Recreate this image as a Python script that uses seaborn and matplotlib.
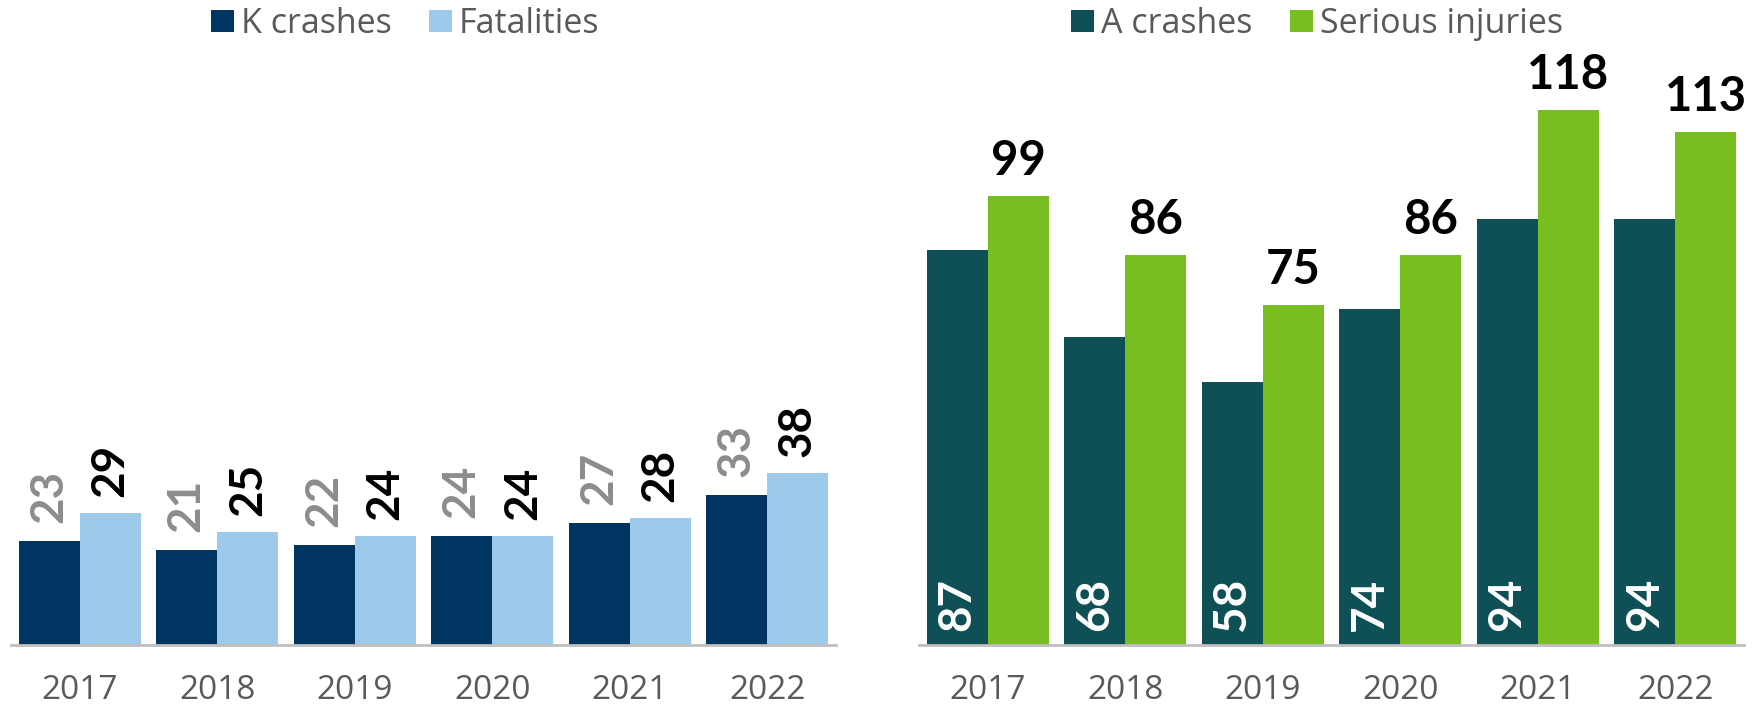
import matplotlib
matplotlib.use("Agg")
import matplotlib.pyplot as plt
import seaborn as sns
import pandas as pd
from matplotlib.patches import Patch

years = ["2017", "2018", "2019", "2020", "2021", "2022"]
k_crashes = [23, 21, 22, 24, 27, 33]
fatalities = [29, 25, 24, 24, 28, 38]
a_crashes = [87, 68, 58, 74, 94, 94]
serious_injuries = [99, 86, 75, 86, 118, 113]

left_series = ["K crashes", "Fatalities"]
right_series = ["A crashes", "Serious injuries"]
left_colors = ["#003561", "#9DCAEA"]
right_colors = ["#0E5055", "#78BE20"]

sns.set_theme(style="white")
plt.rcParams["font.family"] = ["Open Sans", "DejaVu Sans"]

LABEL_FONT = ["Lato", "DejaVu Sans"]

W, H = 1760, 716
fig = plt.figure(figsize=(W / 100, H / 100), dpi=100)

base_px = 645
ymax = 142.2

ax_l = fig.add_axes([11 / W, (H - base_px) / H, 825 / W, base_px / H])
ax_r = fig.add_axes([919 / W, (H - base_px) / H, 825 / W, base_px / H])

df_l = pd.DataFrame({
    "year": years * 2,
    "value": k_crashes + fatalities,
    "series": [left_series[0]] * 6 + [left_series[1]] * 6,
})
df_r = pd.DataFrame({
    "year": years * 2,
    "value": a_crashes + serious_injuries,
    "series": [right_series[0]] * 6 + [right_series[1]] * 6,
})

sns.barplot(data=df_l, x="year", y="value", hue="series", palette=left_colors,
            width=0.888, ax=ax_l, legend=False, linewidth=0, saturation=1)
sns.barplot(data=df_r, x="year", y="value", hue="series", palette=right_colors,
            width=0.888, ax=ax_r, legend=False, linewidth=0, saturation=1)

for ax in (ax_l, ax_r):
    ax.set_xlim(-0.5, 5.5)
    ax.set_ylim(0, ymax)
    ax.set_xlabel("")
    ax.set_ylabel("")
    ax.set_yticks([])
    for s in ("top", "left", "right"):
        ax.spines[s].set_visible(False)
    ax.spines["bottom"].set_color("#BFBFBF")
    ax.spines["bottom"].set_linewidth(2)
    ax.tick_params(axis="x", length=0, pad=21, labelsize=24, labelcolor="#595959")
    ax.patch.set_alpha(0)

# Left labels (rotated)
c_k, c_f = ax_l.containers[0], ax_l.containers[1]
for bar, v in zip(c_k, k_crashes):
    ax_l.annotate(str(v), (bar.get_x() + bar.get_width() / 2, bar.get_height()),
                  xytext=(0, 18), textcoords="offset pixels", rotation=90,
                  ha="center", va="bottom", fontsize=33, color="#8C8C8C",
                  fontweight="bold", family=LABEL_FONT)
for bar, v in zip(c_f, fatalities):
    ax_l.annotate(str(v), (bar.get_x() + bar.get_width() / 2, bar.get_height()),
                  xytext=(0, 16), textcoords="offset pixels", rotation=90,
                  ha="center", va="bottom", fontsize=33, color="black",
                  fontweight="bold", family=LABEL_FONT)

# Right labels
c_a, c_s = ax_r.containers[0], ax_r.containers[1]
for bar, v in zip(c_a, a_crashes):
    ax_r.annotate(str(v), (bar.get_x() + bar.get_width() / 2, 0),
                  xytext=(0, 14), textcoords="offset pixels", rotation=90,
                  ha="center", va="bottom", fontsize=33, color="white",
                  fontweight="bold", family=LABEL_FONT)
for bar, v in zip(c_s, serious_injuries):
    ax_r.annotate(str(v), (bar.get_x() + bar.get_width() / 2, bar.get_height()),
                  xytext=(0, 13), textcoords="offset pixels",
                  ha="center", va="bottom", fontsize=34, color="black",
                  fontweight="bold", family=LABEL_FONT)

# Legends
def make_legend(labels, colors, cx):
    handles = [Patch(facecolor=c, edgecolor="none", label=l) for l, c in zip(labels, colors)]
    fig.legend(handles=handles, loc="center", bbox_to_anchor=(cx / W, 1 - 24 / H),
               ncol=2, frameon=False, fontsize=24.5, labelcolor="#595959",
               handlelength=0.68, handleheight=0.65, handletextpad=0.2,
               columnspacing=1.1, borderpad=0)

make_legend(left_series, left_colors, 405)
make_legend(right_series, right_colors, 1317)

fig.savefig("out.png", dpi=100)
